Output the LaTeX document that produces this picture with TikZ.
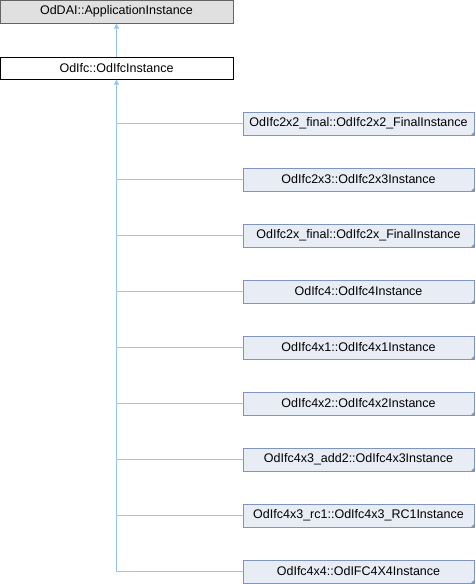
\documentclass[tikz,border=0pt]{standalone}
\usepackage{fontspec}
\setmainfont{Liberation Sans}
\usepackage{tikz}
\usetikzlibrary{arrows.meta, positioning, calc}
\definecolor{rootgray}{RGB}{224,224,224}
\definecolor{rootline}{RGB}{100,100,100}
\definecolor{kidfill}{RGB}{232,236,245}
\definecolor{kidline}{RGB}{128,148,192}
\definecolor{linkblue}{RGB}{150,200,235}
\tikzset{
    % Base classes
    rootnode/.style={rectangle, draw=rootline, fill=rootgray, line width=1pt,
                minimum width=233pt, minimum height=23pt, inner sep=0pt,
                font=\fontsize{12.5}{14}\selectfont},
    basenode/.style={rectangle, draw=black, fill=white, line width=1pt,
                minimum width=233pt, minimum height=22pt, inner sep=0pt,
                font=\fontsize{12.5}{14}\selectfont},
    % Derived classes
    kidnode/.style={rectangle, draw=kidline, fill=kidfill, line width=1pt,
                minimum width=231pt, minimum height=23pt, inner sep=0pt,
                font=\fontsize{12.5}{14}\selectfont},
    dogear/.style={fill=kidline},
    % Links
    inharrow/.style={-{Triangle[length=5pt, width=5pt]}, line width=1pt, linkblue},
    inhline/.style={line width=1pt, linkblue},
}

\begin{document}
\begin{tikzpicture}[x=1pt, y=-1pt]
\useasboundingbox (0,0) rectangle (476,584);

\node[rootnode] (app)  at (116.5,11.5) {OdDAI::ApplicationInstance};
\node[basenode] (ifc)  at (116.5,68)   {OdIfc::OdIfcInstance};

\foreach \name/\txt [count=\i from 0] in {
    k1/OdIfc2x2\_final::OdIfc2x2\_FinalInstance,
    k2/OdIfc2x3::OdIfc2x3Instance,
    k3/OdIfc2x\_final::OdIfc2x\_FinalInstance,
    k4/OdIfc4::OdIfc4Instance,
    k5/OdIfc4x1::OdIfc4x1Instance,
    k6/OdIfc4x2::OdIfc4x2Instance,
    k7/OdIfc4x3\_add2::OdIfc4x3Instance,
    k8/OdIfc4x3\_rc1::OdIfc4x3\_RC1Instance,
    k9/OdIfc4x4::OdIFC4X4Instance}
{
    \node[kidnode] (\name) at (358.5,123.5+56*\i) {\txt};
    \fill[dogear] (\name.south east) -- ++(0,-4) -- ++(-4,4) -- cycle;
    \draw[inhline] (\name.west) -- (\name.west -| ifc.south);
}

\coordinate (trunkend) at (ifc.south |- k9.west);
\draw[inharrow] (trunkend) -- (ifc.south);
\draw[inharrow] (ifc.north) -- (app.south);
\end{tikzpicture}
\end{document}
